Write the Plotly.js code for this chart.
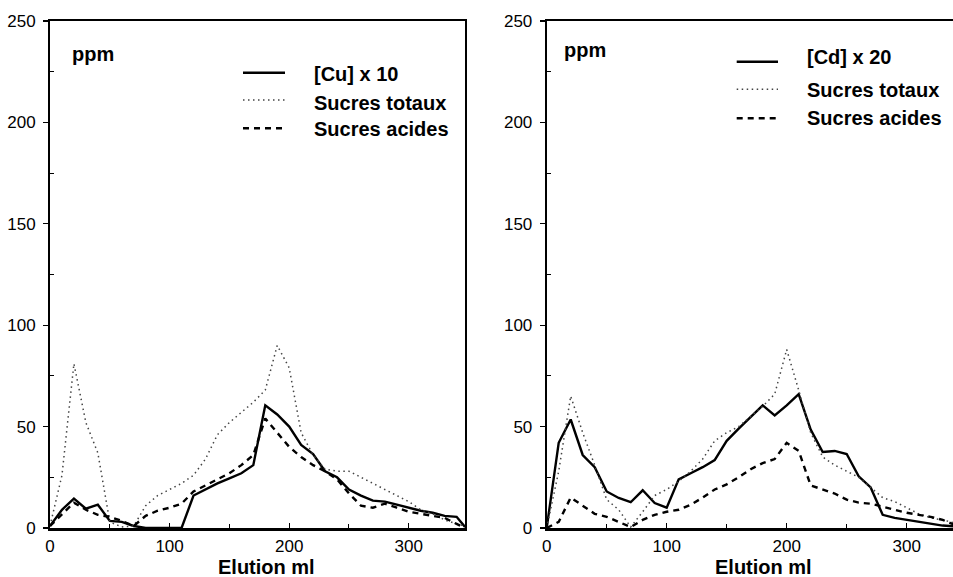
<!DOCTYPE html>
<html><head><meta charset="utf-8">
<script src="https://cdn.plot.ly/plotly-3.0.1.min.js"></script>
<style>html,body{margin:0;padding:0;background:#fff}#chart{width:953px;height:577px}</style>
</head><body><div id="chart"></div>
<script>
// Left panel: copper
const elutionCu = [0,10,20,30,40,50,60,70,80,90,100,110,120,130,140,150,160,170,180,190,200,210,220,230,240,250,260,270,280,290,300,310,320,330,340,347];
const cuX10 = [1,9,14.5,9.5,11.5,3.5,3,1,0,0,0,0,16,19,22,24.5,27,31,60.5,56,50,41,36.5,28,25,19,16,13.5,13,11.5,10,8.5,7.5,6,5.5,0.5];
const totauxCu = [1,26,81,52,37,3,0.5,1,11,16,19,22,26,34,46,52,57,62,68,90,79,47,36,29,28,28,25,22,19,16,13,9,7,4,2,1];
const acidesCu = [1,7,12.5,9,6.5,5.5,3.5,1,6,8.5,10,12,18,21,24,27,31,36,54,47,40,35,31,28,24,17,11,10,12,10,8,7,6,5,2,0];

// Right panel: cadmium
const elutionCd = [0,10,20,30,40,50,60,70,80,90,100,110,120,130,140,150,160,170,180,190,200,210,220,230,240,250,260,270,280,290,300,310,320,330,340];
const cdX20 = [0,42,53.5,36,30,18,14.8,12.7,18.6,12.3,10,24,27,30,33.5,43,49,54.5,60.5,55.5,60.5,66,48.5,37.5,38,36.5,25.5,20,6.5,5,4,3,2,1.2,0.8];
const totauxCd = [0,28,65,47,31,14,9,0.5,8,16,19,23,28,34,43,47,50,55,60,66,88,68,47,35,31,28,25,20,15,13,10,7,5,4,2.5];
const acidesCd = [0,3,15,11,7,5.5,3,0.5,4,6.5,8,9,11.5,15,19,21.5,25,29,32,34,42,38,21,19,17,14,12.5,12,10.5,9,7.5,6.5,5.5,4,1.5];

const namesLeft = ['[Cu] x 10','Sucres totaux','Sucres acides'];
const namesRight = ['[Cd] x 20','Sucres totaux','Sucres acides'];
const yTicks = [0,50,100,150,200,250];
const xTicks = [0,100,200,300];
const unitLabel = 'ppm';
const xLabel = 'Elution ml';

const FONT = 'Liberation Sans, Arial, Helvetica, sans-serif';
const styles = [
  {color:'#000', width:2.4},
  {color:'#444', width:1.5, dash:'1.5px,3.5px'},
  {color:'#000', width:2.4, dash:'6px,5px'}
];

const traces = [];
[cuX10, totauxCu, acidesCu].forEach((ys,i)=>traces.push({x:elutionCu, y:ys, name:namesLeft[i], mode:'lines', line:styles[i], xaxis:'x', yaxis:'y', showlegend:false}));
[cdX20, totauxCd, acidesCd].forEach((ys,i)=>traces.push({x:elutionCd, y:ys, name:namesRight[i], mode:'lines', line:styles[i], xaxis:'x2', yaxis:'y2', showlegend:false}));

const W = 953, H = 577;
const yDom = [(H-528)/H, (H-21)/H];
function xAxis(dom, range){
  return {domain:dom, range:range, showgrid:false, zeroline:false, showline:true, linecolor:'#000', linewidth:2.5,
    mirror:true, ticks:'inside', ticklen:5, tickwidth:1.2, tickcolor:'#000', tickvals:xTicks, ticktext:xTicks.map(String),
    ticklabelstandoff:1, tickfont:{family:FONT, size:17, color:'#000'},
    minor:{tickvals:[50,150,250], ticks:'inside', ticklen:4, tickwidth:1, tickcolor:'#000'}, fixedrange:true};
}
function yAxis(anchor, mirror){
  return {domain:yDom, range:[0,250], anchor:anchor, showgrid:false, zeroline:false, showline:true, linecolor:'#000', linewidth:2,
    mirror:mirror, ticks:'outside', ticklen:5, tickwidth:1.2, tickcolor:'#000', tickvals:yTicks, ticktext:yTicks.map(String),
    ticklabelstandoff:4, tickfont:{family:FONT, size:17, color:'#000'},
    minor:{tickvals:[25,75,125,175,225], ticks:'inside', ticklen:4, tickwidth:1, tickcolor:'#000'}, fixedrange:true};
}
const boldFont = {family:FONT, size:20, weight:'bold', color:'#000'};

// legend key placement (pixels)
const legendSpec = [
  {names:namesLeft, x0:243, x1:285, tx:312, ly:[72.7,100,128.3], ty:[74,103,129]},
  {names:namesRight, x0:736.7, x1:778, tx:805, ly:[61.7,89.3,118.3], ty:[57,89.5,118]}
];
const shapes = [], annotations = [];
legendSpec.forEach(spec=>{
  spec.names.forEach((nm,i)=>{
    shapes.push({type:'line', xref:'paper', yref:'paper', x0:spec.x0/W, x1:spec.x1/W, y0:1-spec.ly[i]/H, y1:1-spec.ly[i]/H,
      line:{color:styles[i].color, width:styles[i].width, dash:styles[i].dash||'solid'}});
    annotations.push({text:nm, xref:'paper', yref:'paper', x:spec.tx/W, y:1-spec.ty[i]/H, xanchor:'left', yanchor:'middle',
      showarrow:false, font:boldFont});
  });
});
annotations.push(
  {text:unitLabel, xref:'paper', yref:'paper', x:70/W, y:1-54/H, xanchor:'left', yanchor:'middle', showarrow:false, font:boldFont},
  {text:unitLabel, xref:'paper', yref:'paper', x:561.7/W, y:1-50/H, xanchor:'left', yanchor:'middle', showarrow:false, font:boldFont},
  {text:xLabel, xref:'paper', yref:'paper', x:266.7/W, y:1-566.5/H, xanchor:'center', yanchor:'middle', showarrow:false, font:boldFont},
  {text:xLabel, xref:'paper', yref:'paper', x:763.3/W, y:1-566.5/H, xanchor:'center', yanchor:'middle', showarrow:false, font:boldFont}
);

const layout = {
  width:W, height:H, margin:{l:0,r:0,t:0,b:0}, paper_bgcolor:'#fff', plot_bgcolor:'#fff',
  font:{family:FONT, color:'#000'},
  xaxis: Object.assign(xAxis([50/W, 465/W], [0,347]), {anchor:'y'}),
  yaxis: yAxis('x', true),
  xaxis2: Object.assign(xAxis([546.7/W, 1], [0,338.6]), {anchor:'y2'}),
  yaxis2: yAxis('x2', false),
  shapes:shapes, annotations:annotations, showlegend:false
};
Plotly.newPlot('chart', traces, layout, {staticPlot:true, displayModeBar:false});
</script>
</body></html>
